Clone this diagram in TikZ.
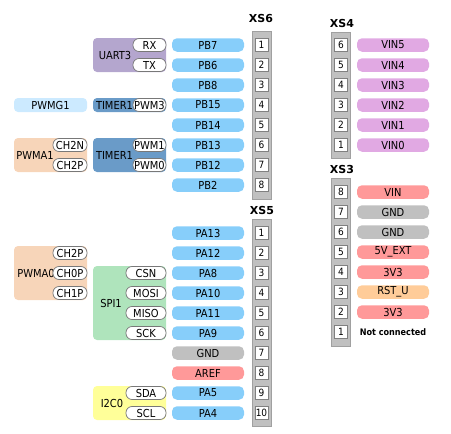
\documentclass[tikz,border=0pt]{standalone}
\usepackage{fontspec}
\setmainfont{DejaVu Sans}
\newfontfamily\condfont{DejaVu Sans Condensed}
\definecolor{pinblue}{RGB}{135,206,250}
\definecolor{gndgray}{RGB}{192,192,192}
\definecolor{pwrred}{RGB}{255,153,153}
\definecolor{rstorange}{RGB}{255,204,153}
\definecolor{vinpurple}{RGB}{225,169,227}
\definecolor{uartcol}{RGB}{180,166,206}
\definecolor{timercol}{RGB}{106,155,200}
\definecolor{pwmgcol}{RGB}{204,234,255}
\definecolor{pwmacol}{RGB}{247,213,185}
\definecolor{spicol}{RGB}{175,228,188}
\definecolor{i2ccol}{RGB}{255,255,153}
\definecolor{stripgray}{RGB}{192,192,192}
\definecolor{stripborder}{RGB}{160,160,160}
\definecolor{numborder}{RGB}{128,128,128}
\definecolor{pillborder}{RGB}{120,120,120}
\tikzset{
  pinpill/.style={rounded corners=5pt, minimum width=72pt, minimum height=13.5pt, inner sep=0pt, font=\condfont\fontsize{11}{12}\selectfont},
  fnpill/.style={draw=pillborder, fill=white, line width=0.7pt, rounded corners=6pt, minimum height=13pt, inner sep=0pt, font=\condfont\fontsize{11}{12}\selectfont},
  grp/.style={rounded corners=4pt, inner sep=0pt, minimum width=73pt},
  grplbl/.style={inner sep=0pt, font=\condfont\fontsize{11}{12}\selectfont},
  numbox/.style={draw=numborder, fill=white, line width=0.7pt, minimum size=13pt, inner sep=0pt, font=\condfont\fontsize{10}{11}\selectfont},
  strip/.style={draw=stripborder, fill=stripgray, line width=0.8pt, minimum width=19pt, inner sep=0pt},
  hdr/.style={inner sep=0pt, font=\bfseries\fontsize{11}{12}\selectfont}
}
\begin{document}
\begin{tikzpicture}[x=1pt, y=-1pt]
\useasboundingbox (0,0) rectangle (451,434);

% ---- connector strips ----
\node[strip, minimum height=168pt] (xs6) at (261.5,115) {};
\node[strip, minimum height=207pt] (xs5) at (261.5,322.5) {};
\node[strip, minimum height=126pt] (xs4) at (340.5,95) {};
\node[strip, minimum height=168pt] (xs3) at (340.5,262) {};

\node[hdr] (xs6h) at (261,18) {XS6};
\node[hdr] (xs5h) at (262,210) {XS5};
\node[hdr] (xs4h) at (342,23) {XS4};
\node[hdr] (xs3h) at (342,169) {XS3};

% ---- XS6 ----
\foreach \t [count=\i] in {PB7,PB6,PB8,PB15,PB14,PB13,PB12,PB2} {
  \node[pinpill, fill=pinblue] (xs6pin\i) at (208,25+20*\i) {\t};
  \node[numbox] (xs6num\i) at (261.5,25+20*\i) {\i};
}

% ---- XS5 ----
\foreach \t/\c [count=\i] in {PA13/pinblue,PA12/pinblue,PA8/pinblue,PA10/pinblue,PA11/pinblue,PA9/pinblue,GND/gndgray,AREF/pwrred,PA5/pinblue,PA4/pinblue} {
  \node[pinpill, fill=\c] (xs5pin\i) at (208,213+20*\i) {\t};
  \node[numbox] (xs5num\i) at (261.5,213+20*\i) {\i};
}

% ---- XS4 ----
\foreach \t [count=\i] in {VIN5,VIN4,VIN3,VIN2,VIN1,VIN0} {
  \pgfmathtruncatemacro{\n}{7-\i}
  \node[pinpill, fill=vinpurple] (xs4pin\n) at (393,25+20*\i) {\t};
  \node[numbox] (xs4num\n) at (341,25+20*\i) {\n};
}

% ---- XS3 ----
\foreach \t/\c [count=\i] in {VIN/pwrred,GND/gndgray,GND/gndgray,5V\_EXT/pwrred,3V3/pwrred,RST\_U/rstorange,3V3/pwrred} {
  \pgfmathtruncatemacro{\n}{9-\i}
  \node[pinpill, fill=\c] (xs3pin\n) at (393,172+20*\i) {\t};
  \node[numbox] (xs3num\n) at (341,172+20*\i) {\n};
}
\node[numbox] (xs3num1) at (341,332) {1};
\node[inner sep=0pt, font=\condfont\bfseries\fontsize{9}{10}\selectfont] (xs3nc) at (393,332) {Not connected};

% ---- group boxes ----
\node[grp, fill=uartcol, minimum height=34pt] (uart) at (129.5,55) {};
\node[grp, fill=timercol, minimum height=14pt] (timA) at (129.5,105) {};
\node[grp, fill=pwmgcol, minimum height=14pt] (pwmg) at (50.5,105) {};
\node[grp, fill=pwmacol, minimum height=34pt] (pwma1) at (50.5,155) {};
\node[grp, fill=timercol, minimum height=34pt] (timB) at (129.5,155) {};
\node[grp, fill=pwmacol, minimum height=54pt] (pwma0) at (50.5,273) {};
\node[grp, fill=spicol, minimum height=74pt] (spi) at (129.5,303) {};
\node[grp, fill=i2ccol, minimum height=34pt] (i2c) at (129.5,403) {};

\node[grplbl] (uartl) at (115,55) {UART3};
\node[grplbl] (timAl) at (114.5,105) {TIMER1};
\node[grplbl] (pwmgl) at (50.5,105) {PWMG1};
\node[grplbl] (pwma1l) at (35,155) {PWMA1};
\node[grplbl] (timBl) at (114.5,155) {TIMER1};
\node[grplbl] (pwma0l) at (36,273) {PWMA0};
\node[grplbl] (spil) at (111,303) {SPI1};
\node[grplbl] (i2cl) at (112,403) {I2C0};

% ---- function pills ----
\node[fnpill, minimum width=33pt] (rx) at (149.5,45) {RX};
\node[fnpill, minimum width=33pt] (tx) at (149.5,65) {TX};
\node[fnpill, minimum width=33pt] (pwm3) at (149.5,105) {PWM3};
\node[fnpill, minimum width=33pt] (pwm1) at (149.5,145) {PWM1};
\node[fnpill, minimum width=33pt] (pwm0) at (149.5,165) {PWM0};
\node[fnpill, minimum width=34pt] (ch2n) at (70,145) {CH2N};
\node[fnpill, minimum width=34pt] (ch2pa) at (70,165) {CH2P};
\node[fnpill, minimum width=34pt] (ch2pb) at (70,253) {CH2P};
\node[fnpill, minimum width=34pt] (ch0p) at (70,273) {CH0P};
\node[fnpill, minimum width=34pt] (ch1p) at (70,293) {CH1P};
\node[fnpill, minimum width=40pt] (csn) at (146,273) {CSN};
\node[fnpill, minimum width=40pt] (mosi) at (146,293) {MOSI};
\node[fnpill, minimum width=40pt] (miso) at (146,313) {MISO};
\node[fnpill, minimum width=40pt] (sck) at (146,333) {SCK};
\node[fnpill, minimum width=40pt] (sda) at (146,393) {SDA};
\node[fnpill, minimum width=40pt] (scl) at (146,413) {SCL};
\end{tikzpicture}
\end{document}
